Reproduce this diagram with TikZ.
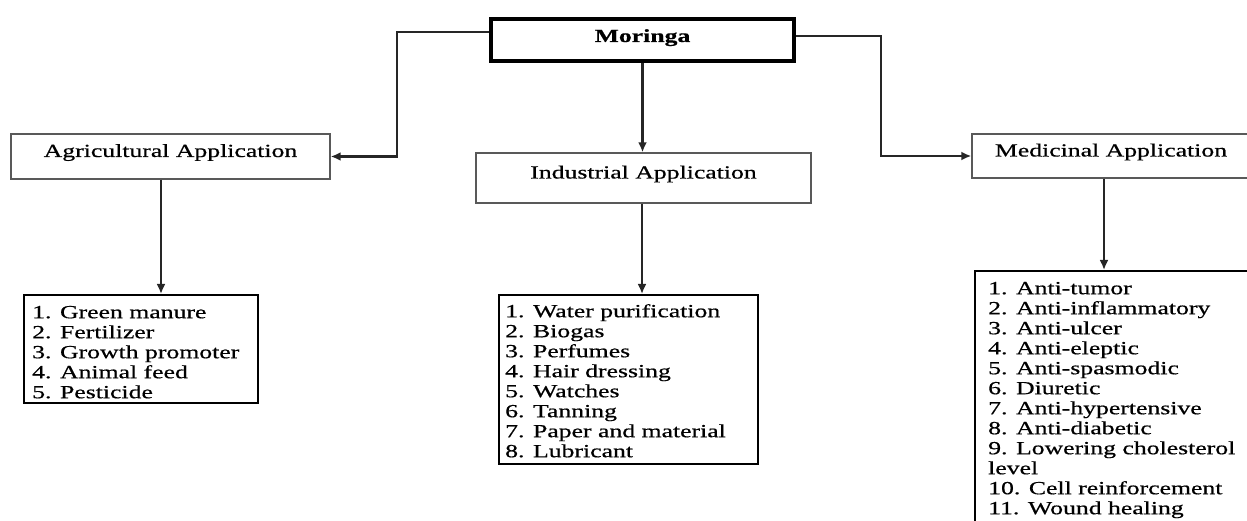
\documentclass[tikz,border=0pt]{standalone}
\usepackage{fontspec}
\setmainfont{Liberation Serif}[FakeStretch=1.39,FakeBold=0.6]
\usetikzlibrary{arrows.meta}
\begin{document}
\begin{tikzpicture}[x=1pt,y=-1pt,
  txt/.style={font=\fontsize{18.5}{20}\selectfont},
  appbox/.style={txt, draw=black!65, line width=1.4pt, inner sep=0pt, text height=9pt, text depth=8pt},
  topbox/.style={txt, draw=black, line width=3.5pt, inner sep=0pt, text height=10pt, text depth=6pt},
  listbox/.style={draw=black, line width=1.7pt, inner sep=0pt, anchor=north west},
  listtext/.style={txt, align=left, inner sep=0pt, anchor=north west},
  conn/.style={draw=black!85, line width=2.3pt},
  arr/.style={conn, -{Latex[length=10pt,width=9pt]}}
]
\useasboundingbox (0,0) rectangle (1247,521);
\clip (0,0) rectangle (1247,521);

% main box
\node[topbox, minimum width=303pt, minimum height=42pt] (mor) at (642.5,40) {\bfseries Moringa};

% application boxes
\node[appbox, minimum width=319pt, minimum height=45pt] (agri) at (170.5,156.5) {Agricultural Application};
\node[appbox, minimum width=335pt, minimum height=50pt] (ind) at (643.5,178) {Industrial Application};
\node[appbox, minimum width=278pt, minimum height=44pt] (med) at (1111,156) {Medicinal Application};

% list boxes
\node[listbox, minimum width=234pt, minimum height=108pt] (agrilist) at (23,294) {};
\node[listtext] (agritext) at (32,303) {\rule{0pt}{15pt}1. Green manure\\2. Fertilizer\\3. Growth promoter\\4. Animal feed\\5. Pesticide};

\node[listbox, minimum width=259pt, minimum height=169pt] (indlist) at (498,294) {};
\node[listtext] (indtext) at (505,302) {\rule{0pt}{15pt}1. Water purification\\2. Biogas\\3. Perfumes\\4. Hair dressing\\5. Watches\\6. Tanning\\7. Paper and material\\8. Lubricant};

\node[listbox, minimum width=290pt, minimum height=270pt] (medlist) at (974,270) {};
\node[listtext] (medtext) at (988,279) {\rule{0pt}{15pt}1. Anti-tumor\\2. Anti-inflammatory\\3. Anti-ulcer\\4. Anti-eleptic\\5. Anti-spasmodic\\6. Diuretic\\7. Anti-hypertensive\\8. Anti-diabetic\\9. Lowering cholesterol\\level\\10. Cell reinforcement\\11. Wound healing};

% connectors
\coordinate (lk) at (397,32);
\coordinate (rk) at (881,36);
\draw[arr] ([yshift=8pt]mor.west) -- (lk) |- (agri.east);
\draw[arr] ([yshift=4pt]mor.east) -- (rk) |- (med.west);
\draw[arr] (mor.south) -- (mor.south |- ind.north);
\draw[arr] ([xshift=-9.5pt]agri.south) -- ([xshift=-9.5pt]agri.south |- agrilist.north);
\draw[arr] ([xshift=-1.5pt]ind.south) -- ([xshift=-1.5pt]ind.south |- indlist.north);
\draw[arr] ([xshift=-7pt]med.south) -- ([xshift=-7pt]med.south |- medlist.north);
\end{tikzpicture}
\end{document}
